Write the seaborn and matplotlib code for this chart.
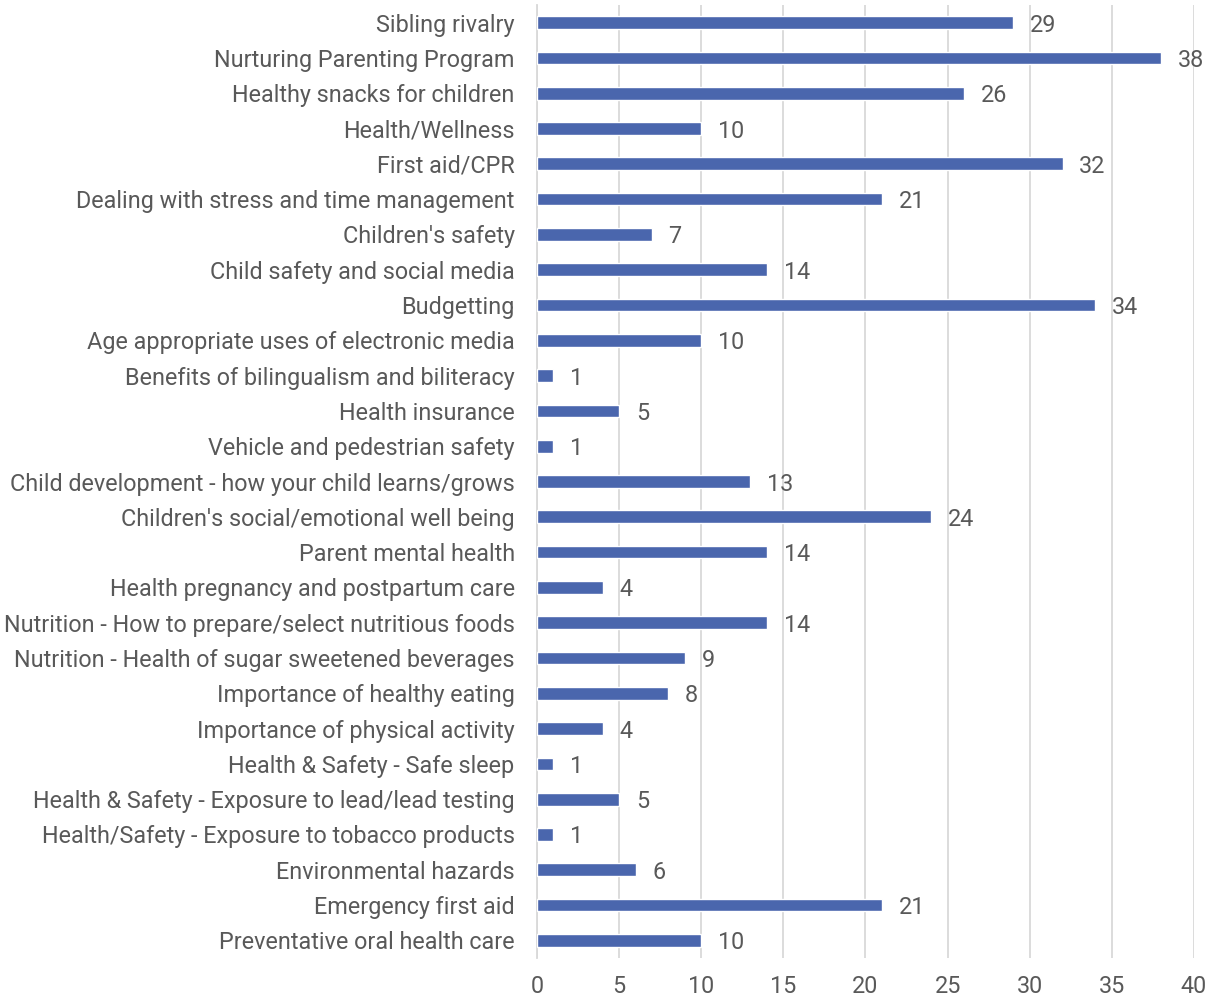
import matplotlib
matplotlib.use("Agg")
import matplotlib.pyplot as plt
import seaborn as sns
import pandas as pd

# Data (top to bottom)
topics = [
    "Sibling rivalry",
    "Nurturing Parenting Program",
    "Healthy snacks for children",
    "Health/Wellness",
    "First aid/CPR",
    "Dealing with stress and time management",
    "Children's safety",
    "Child safety and social media",
    "Budgetting",
    "Age appropriate uses of electronic media",
    "Benefits of bilingualism and biliteracy",
    "Health insurance",
    "Vehicle and pedestrian safety",
    "Child development - how your child learns/grows",
    "Children's social/emotional well being",
    "Parent mental health",
    "Health pregnancy and postpartum care",
    "Nutrition - How to prepare/select nutritious foods",
    "Nutrition - Health of sugar sweetened beverages",
    "Importance of healthy eating",
    "Importance of physical activity",
    "Health & Safety - Safe sleep",
    "Health & Safety - Exposure to lead/lead testing",
    "Health/Safety - Exposure to tobacco products",
    "Environmental hazards",
    "Emergency first aid",
    "Preventative oral health care",
]
counts = [29, 38, 26, 10, 32, 21, 7, 14, 34, 10, 1, 5, 1, 13, 24, 14, 4, 14, 9, 8, 4, 1, 5, 1, 6, 21, 10]
x_ticks = [0, 5, 10, 15, 20, 25, 30, 35, 40]

df = pd.DataFrame({"topic": topics, "count": counts})

sns.set_theme(style="white")
plt.rcParams["font.family"] = ["Roboto", "DejaVu Sans"]
text_color = "#595959"
grid_color = "#d9d9d9"
bar_color = "#4a66ad"
fs = 16.8

fig = plt.figure(figsize=(12.14, 10), dpi=100)
ax = fig.add_axes([0.4423, 0.042, 0.5412, 0.953])

sns.barplot(data=df, x="count", y="topic", color=bar_color, width=0.36,
            saturation=1, ax=ax, zorder=3)
labels = ax.bar_label(ax.containers[0], padding=12, fontsize=fs, color=text_color)
for t in labels:
    t.set_va("center_baseline")

ax.set_xlim(0, 40)
ax.set_xticks(x_ticks)
ax.xaxis.grid(True, color=grid_color, linewidth=1.3, zorder=0)
ax.set_axisbelow(True)
for side in ["top", "right", "bottom"]:
    ax.spines[side].set_visible(False)
ax.spines["left"].set_color(grid_color)
ax.spines["left"].set_linewidth(1.3)
ax.tick_params(axis="both", length=0, labelsize=fs, colors=text_color)
ax.tick_params(axis="x", pad=12)
ax.tick_params(axis="y", pad=16)
ax.set_xlabel("")
ax.set_ylabel("")

fig.savefig("out.png", dpi=100)
